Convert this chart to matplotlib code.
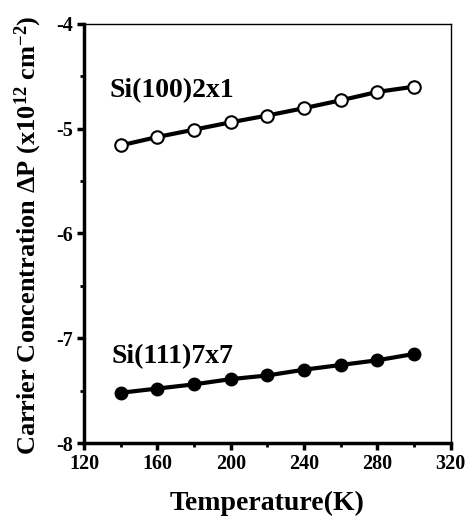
import matplotlib.pyplot as plt
from matplotlib.ticker import MultipleLocator

plt.rcParams['font.family'] = ['Liberation Serif', 'DejaVu Serif']
plt.rcParams['font.weight'] = 'bold'
plt.rcParams['axes.unicode_minus'] = False
plt.rcParams['mathtext.fontset'] = 'custom'
plt.rcParams['mathtext.rm'] = 'Liberation Serif:bold'
plt.rcParams['mathtext.it'] = 'Liberation Serif:bold'
plt.rcParams['mathtext.bf'] = 'Liberation Serif:bold'

temp = [140, 160, 180, 200, 220, 240, 260, 280, 300]
si100 = [-5.16, -5.08, -5.01, -4.94, -4.875, -4.805, -4.73, -4.65, -4.60]
si111 = [-7.52, -7.48, -7.44, -7.39, -7.355, -7.30, -7.255, -7.21, -7.15]

fig = plt.figure(figsize=(4.72, 5.17), dpi=100)
ax = fig.add_axes([0.178, 0.143, 0.777, 0.811])

ax.plot(temp, si100, 'k-', lw=3, marker='o', ms=9, mfc='white', mec='black', mew=1.5)
ax.plot(temp, si111, 'k-', lw=3, marker='o', ms=9, mfc='black', mec='black')

ax.text(134, -4.7, 'Si(100)2x1', fontsize=20, fontweight='bold')
ax.text(135, -7.24, 'Si(111)7x7', fontsize=20, fontweight='bold')

ax.set_xlim(120, 320)
ax.set_ylim(-8, -4)
ax.xaxis.set_major_locator(MultipleLocator(40))
ax.xaxis.set_minor_locator(MultipleLocator(20))
ax.yaxis.set_major_locator(MultipleLocator(1))
ax.yaxis.set_minor_locator(MultipleLocator(0.5))

ax.spines['left'].set_linewidth(2.5)
ax.spines['bottom'].set_linewidth(2.5)
ax.spines['top'].set_linewidth(1)
ax.spines['right'].set_linewidth(1)

ax.tick_params(which='major', length=5, width=2.5, labelsize=14.5, direction='out', pad=3)
ax.tick_params(which='minor', length=3, width=2, direction='out')

ax.set_xlabel('Temperature(K)', fontsize=20, fontweight='bold', labelpad=12)
ax.set_ylabel(r'Carrier Concentration $\Delta$P (x10$^{12}$ cm$^{-2}$)',
              fontsize=19, fontweight='bold')
ax.yaxis.set_label_coords(-0.108, 0.495)

fig.savefig('out.png', dpi=100)
